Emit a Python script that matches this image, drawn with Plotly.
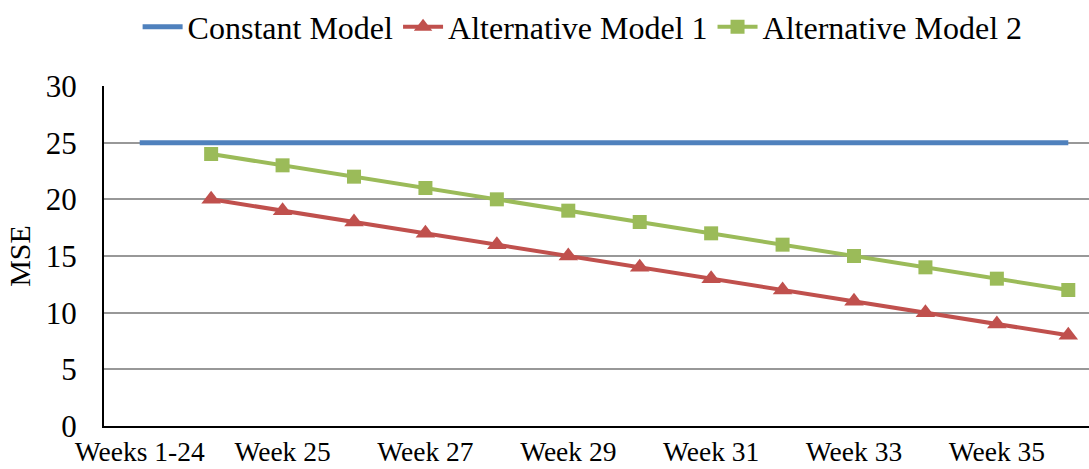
import plotly.graph_objects as go

categories = ["Weeks 1-24", "Week 24"] + [f"Week {w}" for w in range(25, 37)]
constant_model = [25] * 14
alt_model_1 = [None, 20, 19, 18, 17, 16, 15, 14, 13, 12, 11, 10, 9, 8]
alt_model_2 = [None, 24, 23, 22, 21, 20, 19, 18, 17, 16, 15, 14, 13, 12]
tick_labels = ["Weeks 1-24", "Week 25", "Week 27", "Week 29", "Week 31", "Week 33", "Week 35"]
tick_idx = [0, 2, 4, 6, 8, 10, 12]

xs = list(range(len(categories)))
font = "Liberation Serif, Times New Roman, serif"

fig = go.Figure()
fig.add_trace(go.Scatter(x=xs, y=constant_model, name="Constant Model", mode="lines",
                         line=dict(color="#4F81BD", width=5)))
fig.add_trace(go.Scatter(x=xs, y=alt_model_1, name="Alternative Model 1", mode="lines+markers",
                         line=dict(color="#C0504D", width=4),
                         marker=dict(symbol="triangle-up", size=17, color="#C0504D")))
fig.add_trace(go.Scatter(x=xs, y=alt_model_2, name="Alternative Model 2", mode="lines+markers",
                         line=dict(color="#9BBB59", width=4),
                         marker=dict(symbol="square", size=14, color="#9BBB59")))

fig.update_layout(
    width=1089, height=469,
    margin=dict(l=104, r=0, t=86, b=43),
    plot_bgcolor="white", paper_bgcolor="white",
    font=dict(family=font, color="black"),
    showlegend=True,
    legend=dict(orientation="h", x=0.535, xanchor="center", xref="container",
                y=1 - 27 / 469, yanchor="middle", yref="container",
                font=dict(size=32, family=font), itemwidth=40, tracegroupgap=0),
    xaxis=dict(range=[-0.5, 13.29], tickmode="array", tickvals=tick_idx, ticktext=tick_labels,
               showgrid=False, showline=True, linecolor="black", linewidth=2,
               tickfont=dict(size=27.5, family=font), ticks="", zeroline=False,
               automargin=False),
    yaxis=dict(range=[0, 30], dtick=5, showgrid=True, gridcolor="#989898", gridwidth=2,
               showline=True, linecolor="black", linewidth=2, zeroline=False,
               tickfont=dict(size=31, family=font), ticks="", ticklabelstandoff=19,
               automargin=False,
               title=dict(text="MSE", font=dict(size=30, family=font), standoff=6)),
)

fig.write_html("out.html", config={"displayModeBar": False},
               post_script="document.body.style.margin='0';document.body.style.overflow='hidden';")
